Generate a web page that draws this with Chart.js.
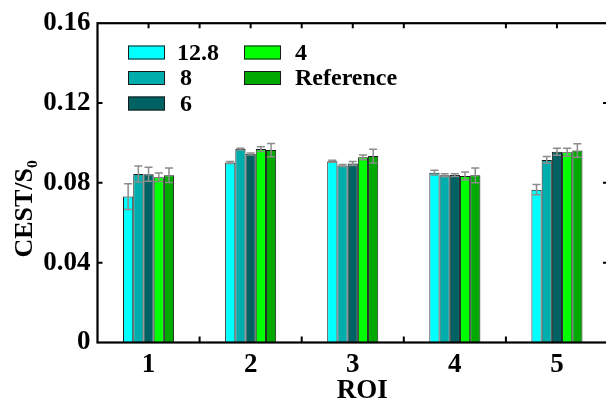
<!DOCTYPE html>
<html>
<head>
<meta charset="utf-8">
<script src="https://cdn.jsdelivr.net/npm/chart.js@4/dist/chart.umd.min.js"></script>
<style>
  html, body { margin: 0; padding: 0; background: #fff; overflow: hidden; width: 606px; height: 403px; }
  #wrap { position: relative; width: 612px; height: 403px; }
</style>
</head>
<body>
<div id="wrap"><canvas id="c"></canvas></div>
<script>
// ---- data ----
const roi = ['1', '2', '3', '4', '5'];
const seriesNames = ['12.8', '8', '6', '4', 'Reference'];
const v128 = [0.0731, 0.0902, 0.0908, 0.0851, 0.0766];
const v8   = [0.0844, 0.0969, 0.0887, 0.0838, 0.0915];
const v6   = [0.0843, 0.0944, 0.0897, 0.0839, 0.0956];
const v4   = [0.0828, 0.0969, 0.0928, 0.0834, 0.0953];
const vRef = [0.0838, 0.0964, 0.0934, 0.0838, 0.0962];
const e128 = [0.0065, 0.0005, 0.0005, 0.0012, 0.0026];
const e8   = [0.0040, 0.0005, 0.0005, 0.0007, 0.0017];
const e6   = [0.0035, 0.0005, 0.0010, 0.0007, 0.0018];
const e4   = [0.0021, 0.0012, 0.0012, 0.0020, 0.0020];
const eRef = [0.0036, 0.0033, 0.0034, 0.0037, 0.0034];
const yTicks = [0, 0.04, 0.08, 0.12, 0.16];
const yTickLabels = ['0', '0.04', '0.08', '0.12', '0.16'];

const values = [v128, v8, v6, v4, vRef];
const errors = [e128, e8, e6, e4, eRef];
const colors = ['#00FFFF', '#00ADAD', '#006262', '#00FF00', '#00A800'];
const FONT = "'Liberation Serif', 'Times New Roman', serif";

const errorBarPlugin = {
  id: 'errorBars',
  afterDatasetsDraw(chart) {
    const ctx = chart.ctx, y = chart.scales.y;
    ctx.save();
    ctx.strokeStyle = '#8c8c8c';
    ctx.lineWidth = 1.5;
    chart.data.datasets.forEach((ds, di) => {
      const meta = chart.getDatasetMeta(di);
      meta.data.forEach((bar, j) => {
        const v = ds.data[j], e = errors[di][j];
        const x = bar.x;
        const yt = y.getPixelForValue(v + e), yb = y.getPixelForValue(v - e);
        const hw = 4;
        ctx.beginPath();
        ctx.moveTo(x, yt); ctx.lineTo(x, yb);
        ctx.moveTo(x - hw, yt); ctx.lineTo(x + hw, yt);
        ctx.moveTo(x - hw, yb); ctx.lineTo(x + hw, yb);
        ctx.stroke();
      });
    });
    ctx.restore();
  }
};

const framePlugin = {
  id: 'frame',
  afterDatasetsDraw(chart) {
    const ctx = chart.ctx, a = chart.chartArea, x = chart.scales.x, y = chart.scales.y;
    ctx.save();
    ctx.strokeStyle = '#000';
    ctx.lineWidth = 2;
    ctx.beginPath();
    yTicks.slice(1, -1).forEach(v => {
      const py = y.getPixelForValue(v);
      ctx.moveTo(a.left, py); ctx.lineTo(a.left + 5, py);
      ctx.moveTo(a.right, py); ctx.lineTo(a.right - 5, py);
    });
    for (let i = 0; i < roi.length - 1; i++) {
      const px = (x.getPixelForValue(i) + x.getPixelForValue(i + 1)) / 2;
      ctx.moveTo(px, a.bottom); ctx.lineTo(px, a.bottom - 6);
    }
    for (let i = 0; i < roi.length; i++) {
      const c = x.getPixelForValue(i);
      if (i !== 3) { ctx.moveTo(c, a.top); ctx.lineTo(c, a.top + 5); }
      if (i < roi.length - 1) {
        const b = (c + x.getPixelForValue(i + 1)) / 2;
        ctx.moveTo(b, a.top); ctx.lineTo(b, a.top + 5);
      }
    }
    ctx.stroke();
    ctx.lineWidth = 2.2;
    ctx.strokeRect(a.left, a.top, a.right - a.left, a.bottom - a.top);
    ctx.restore();
  }
};

const legendPlugin = {
  id: 'customLegend',
  afterDraw(chart) {
    const ctx = chart.ctx;
    const cols = [{ bx: 128, tx: 177 }, { bx: 244, tx: 295 }];
    const rows = [52.5, 78, 103.5];
    ctx.save();
    ctx.font = "bold 24px " + FONT;
    ctx.textBaseline = 'middle';
    ctx.textAlign = 'left';
    chart.data.datasets.forEach((ds, i) => {
      const c = Math.floor(i / 3), col = cols[c], ry = rows[i % 3];
      ctx.fillStyle = ds.backgroundColor;
      ctx.fillRect(col.bx, ry - 7, 37, 14);
      ctx.strokeStyle = '#1a1a1a';
      ctx.lineWidth = 1;
      ctx.strokeRect(col.bx + 0.5, ry - 6.5, 36, 13);
      ctx.fillStyle = '#000';
      ctx.fillText(ds.label, col.tx + (c === 0 && ds.label.length === 1 ? 3 : 0), ry + 1);
    });
    ctx.restore();
  }
};

new Chart(document.getElementById('c'), {
  type: 'bar',
  data: {
    labels: roi,
    datasets: seriesNames.map((n, i) => ({
      label: n,
      data: values[i],
      backgroundColor: colors[i],
      borderColor: '#1a1a1a',
      borderWidth: 1
    }))
  },
  options: {
    responsive: true,
    maintainAspectRatio: false,
    animation: false,
    devicePixelRatio: 1,
    layout: { padding: { top: 17.5, right: 4, left: 0, bottom: 0 } },
    datasets: { bar: { categoryPercentage: 0.5, barPercentage: 1.0 } },
    plugins: { legend: { display: false }, tooltip: { enabled: false } },
    scales: {
      x: {
        type: 'category',
        offset: true,
        grid: { display: false, drawTicks: false },
        border: { display: false },
        ticks: { color: '#000', font: { family: FONT, size: 27, weight: 'bold' }, padding: 6, maxRotation: 0 },
        title: { display: true, text: '\u2002\u2009ROI', color: '#000', font: { family: FONT, size: 27, weight: 'bold', lineHeight: 0.9 }, padding: { top: 0, bottom: 0 } },
        afterFit(s) { s.height = 60.5; }
      },
      y: {
        min: 0, max: 0.16,
        grid: { display: false, drawTicks: false },
        border: { display: false },
        afterBuildTicks(s) { s.ticks = yTicks.map(v => ({ value: v })); },
        ticks: {
          color: '#000', font: { family: FONT, size: 27, weight: 'bold' }, padding: 7,
          callback: (v, i) => yTickLabels[i]
        },
        title: { display: true, text: 'CEST/S\u2080\u2003\u2003', color: '#000', font: { family: FONT, size: 26, weight: 'bold' }, padding: { top: 10, bottom: 0 } },
        afterFit(s) { s.width = 97.5; }
      }
    }
  },
  plugins: [errorBarPlugin, framePlugin, legendPlugin]
});
</script>
</body>
</html>
